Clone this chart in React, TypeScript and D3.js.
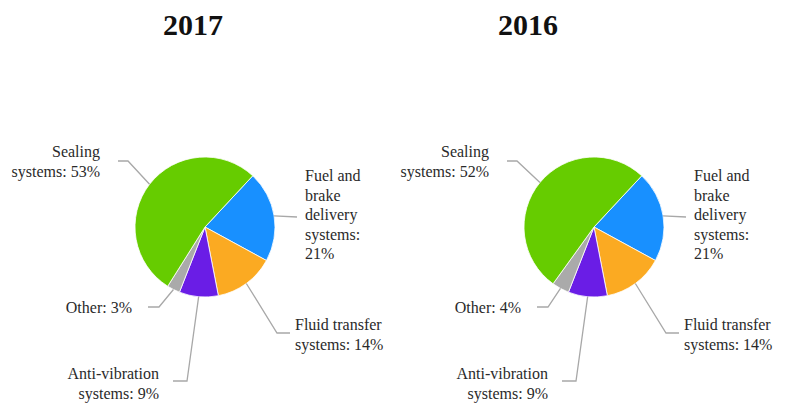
import * as d3 from "d3";

// Data
const years = ["2017", "2016"];
const categories = [
  "Fuel and brake delivery systems",
  "Fluid transfer systems",
  "Anti-vibration systems",
  "Other",
  "Sealing systems",
];
const values2017 = [21, 14, 9, 3, 53];
const values2016 = [21, 14, 9, 4, 52];
const seriesValues = [values2017, values2016];
// label text lines (value appended to last line)
const labelLines = [
  ["Fuel and", "brake", "delivery", "systems:", ""],
  ["Fluid transfer", "systems: "],
  ["Anti-vibration", "systems: "],
  ["Other: "],
  ["Sealing", "systems: "],
];
const colors = ["#1890ff", "#fbaa22", "#6a1de6", "#aaaaaa", "#66cc00"];

// Layout
const width = 785;
const height = 410;
const radius = 70;
const pieCenters = [
  { x: 205, y: 227 },
  { x: 594, y: 227 },
];
const titleX = [193, 528];
const startAngle = (43 * Math.PI) / 180;
const lineHeight = 19.5;
const serif = "'Liberation Serif', 'Times New Roman', Times, serif";

// label layout, relative to pie centre
type LabelLayout = {
  elbow: [number, number] | null;
  end: [number, number];
  tx: number;
  ty: number;
  anchor: "start" | "end";
};
const labelLayout: LabelLayout[] = [
  { elbow: null, end: [92, -10], tx: 100, ty: -46, anchor: "start" },
  { elbow: [72, 106], end: [85, 106], tx: 90, ty: 103, anchor: "start" },
  { elbow: [-18, 154], end: [-32, 154], tx: -46, ty: 152, anchor: "end" },
  { elbow: [-46, 80], end: [-57, 80], tx: -73, ty: 86, anchor: "end" },
  { elbow: [-77, -66], end: [-87, -66], tx: -105, ty: -70, anchor: "end" },
];

const pie = d3
  .pie<number>()
  .sort(null)
  .value((d) => d)
  .startAngle(startAngle)
  .endAngle(startAngle + Math.PI * 2);

const arc = d3.arc<d3.PieArcDatum<number>>().innerRadius(0).outerRadius(radius);

function edgePoint(a: d3.PieArcDatum<number>): [number, number] {
  const mid = (a.startAngle + a.endAngle) / 2;
  return [Math.sin(mid) * radius, -Math.cos(mid) * radius];
}

function PieBlock({ idx }: { idx: number }) {
  const c = pieCenters[idx];
  const arcs = pie(seriesValues[idx]);
  return (
    <g transform={`translate(${c.x},${c.y})`}>
      {arcs.map((a, i) => (
        <path key={categories[i]} d={arc(a) ?? ""} fill={colors[i]} stroke="#fff" strokeWidth={0.8} />
      ))}
      {arcs.map((a, i) => {
        const lay = labelLayout[i];
        const p0 = edgePoint(a);
        const pts = [p0, ...(lay.elbow ? [lay.elbow] : []), lay.end];
        const lines = labelLines[i].slice();
        lines[lines.length - 1] = lines[lines.length - 1] + a.data + "%";
        return (
          <g key={`lab-${i}`}>
            <polyline
              points={pts.map((p) => p.join(",")).join(" ")}
              fill="none"
              stroke="#a8a8a8"
              strokeWidth={1.3}
            />
            <text
              style={{ fontFamily: serif }}
              fontSize={16}
              fill="#2a2a2a"
              textAnchor={lay.anchor}
            >
              {lines.map((l, k) => (
                <tspan key={k} x={lay.tx} y={lay.ty + k * lineHeight}>
                  {l}
                </tspan>
              ))}
            </text>
          </g>
        );
      })}
    </g>
  );
}

export default function App() {
  return (
    <svg
      width={width}
      height={height}
      style={{ position: "absolute", left: 0, top: 0, background: "#fff", fontFamily: serif }}
    >
      {years.map((y, i) => (
        <text
          key={y}
          x={titleX[i]}
          y={35}
          textAnchor="middle"
          style={{ fontFamily: serif }}
          fontWeight="bold"
          fontSize={30}
          fill="#111"
        >
          {y}
        </text>
      ))}
      {years.map((y, i) => (
        <PieBlock key={y} idx={i} />
      ))}
    </svg>
  );
}
